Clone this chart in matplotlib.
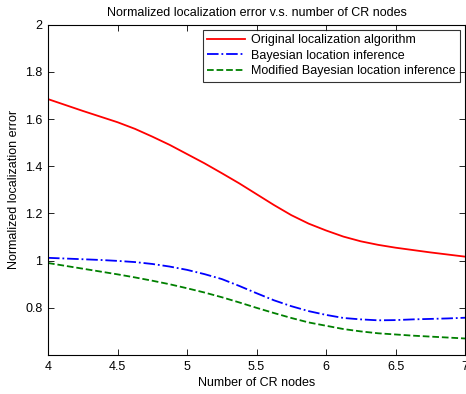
import matplotlib
matplotlib.use('Agg')
import matplotlib.pyplot as plt

plt.rcParams['font.family'] = ['Liberation Sans', 'DejaVu Sans']

# number of CR nodes
nodes = [4, 4.125, 4.25, 4.375, 4.5, 4.625, 4.75, 4.875, 5, 5.125, 5.25, 5.375, 5.5,
         5.625, 5.75, 5.875, 6, 6.125, 6.25, 6.375, 6.5, 6.625, 6.75, 6.875, 7]
# normalized localization error
original = [1.685, 1.66, 1.635, 1.611, 1.587, 1.559, 1.526, 1.491, 1.452, 1.413, 1.371, 1.328, 1.282,
            1.236, 1.193, 1.157, 1.128, 1.102, 1.082, 1.067, 1.055, 1.045, 1.035, 1.026, 1.017]
bayesian = [1.012, 1.009, 1.006, 1.003, 0.999, 0.994, 0.986, 0.975, 0.961, 0.943, 0.922, 0.893, 0.862,
            0.832, 0.807, 0.786, 0.77, 0.757, 0.751, 0.747, 0.748, 0.751, 0.753, 0.755, 0.758]
modified = [0.99, 0.978, 0.966, 0.954, 0.942, 0.929, 0.915, 0.9, 0.883, 0.865, 0.845, 0.823, 0.80,
            0.778, 0.757, 0.738, 0.724, 0.71, 0.70, 0.692, 0.687, 0.682, 0.678, 0.674, 0.67]

xticks = [4, 4.5, 5, 5.5, 6, 6.5, 7]
xtick_labels = ['4', '4.5', '5', '5.5', '6', '6.5', '7']
yticks = [0.8, 1, 1.2, 1.4, 1.6, 1.8, 2]
ytick_labels = ['0.8', '1', '1.2', '1.4', '1.6', '1.8', '2']

fig = plt.figure(figsize=(4.66, 3.94), dpi=100)
ax = fig.add_axes([0.103, 0.099, 0.895, 0.838])

ax.plot(nodes, original, color='red', linestyle='-', linewidth=1.3,
        label='Original localization algorithm')
ax.plot(nodes, bayesian, color='blue', linestyle='-.', linewidth=1.3,
        label='Bayesian location inference')
ax.plot(nodes, modified, color=(0, 0.5, 0), linestyle='--', linewidth=1.3,
        label='Modified Bayesian location inference')

ax.set_xlim(4, 7)
ax.set_ylim(0.6, 2)
ax.set_xticks(xticks)
ax.set_xticklabels(xtick_labels)
ax.set_yticks(yticks)
ax.set_yticklabels(ytick_labels)
ax.tick_params(direction='in', top=True, right=True, labelsize=9, length=4, width=0.6, pad=4)
for s in ax.spines.values():
    s.set_linewidth(0.8)

ax.set_title('Normalized localization error v.s. number of CR nodes', fontsize=9, pad=6)
ax.set_xlabel('Number of CR nodes', fontsize=9, labelpad=3)
ax.set_ylabel('Normalized localization error', fontsize=9, labelpad=4)

leg = ax.legend(loc='upper right', fontsize=9, frameon=True, fancybox=False,
                edgecolor='black', handlelength=3.0, borderaxespad=0.4,
                labelspacing=0.28, borderpad=0.35, handletextpad=0.5)
leg.get_frame().set_linewidth(0.8)

fig.savefig('out.png', dpi=100)
